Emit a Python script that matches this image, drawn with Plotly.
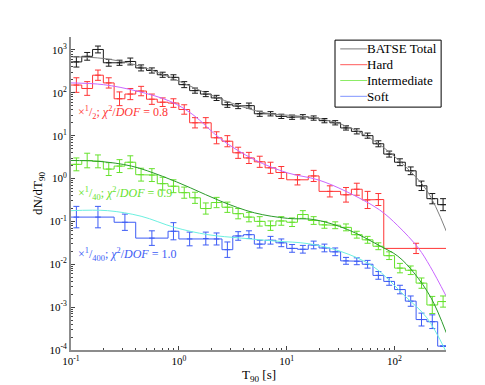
import numpy as np
import plotly.graph_objects as go

# T90 distributions (BATSE), stored as log10
# bin edges are log10(T90 / s)
total_edges = [-1.0 + 0.1 * k for k in range(36)]
total_vals = [2.72, 2.85, 3.01, 2.70, 2.70, 2.73, 2.58, 2.52, 2.42, 2.36,
              2.19, 2.05, 1.97, 1.88, 1.72, 1.69, 1.70, 1.51, 1.51, 1.45,
              1.43, 1.44, 1.41, 1.35, 1.30, 1.18, 1.10, 1.00, 0.81, 0.57,
              0.38, 0.18, -0.17, -0.47, -0.61]
total_err = [0.12, 0.09, 0.08, 0.08, 0.06, 0.08, 0.07, 0.06, 0.06, 0.06,
             0.07, 0.06, 0.06, 0.06, 0.06, 0.06, 0.06, 0.06, 0.05, 0.05,
             0.05, 0.05, 0.05, 0.05, 0.05, 0.05, 0.06, 0.06, 0.07, 0.07,
             0.08, 0.09, 0.11, 0.12, 0.14]

hard_edges = [-1.0 + 0.1 * k for k in range(21)] + [1.2, 1.3, 1.5, 1.6, 1.7, 1.8, 1.9, 2.5]
hard_vals = [2.18, 2.10, 2.41, 2.23, 1.86, 1.97, 2.04, 1.85, 1.78, 1.76,
             1.61, 1.30, 1.30, 0.95, 0.87, 0.60, 0.48, 0.39, 0.25, 0.14,
             -0.03, 0.06, -0.30, -0.38, -0.25, -0.50, -0.49, -1.63]
hard_err = [0.17, 0.16, 0.12, 0.12, 0.16, 0.13, 0.11, 0.12, 0.10, 0.10,
            0.11, 0.12, 0.12, 0.14, 0.13, 0.13, 0.13, 0.13, 0.13, 0.14,
            0.12, 0.13, 0.13, 0.17, 0.14, 0.20, 0.14, 0.12]

inter_edges = [-1.0 + 0.1 * k for k in range(36)]
inter_vals = [0.33, 0.42, 0.40, 0.22, 0.29, 0.38, 0.09, 0.08, -0.12, -0.18,
              -0.33, -0.45, -0.70, -0.56, -0.67, -0.82, -0.90, -1.00, -1.10, -0.99,
              -1.02, -0.84, -0.98, -1.08, -1.09, -1.14, -1.31, -1.43, -1.58, -1.80,
              -2.09, -2.14, -2.44, -2.95, -2.87]
inter_err = [0.15, 0.17, 0.15, 0.15, 0.15, 0.15, 0.15, 0.15, 0.15, 0.15,
             0.13, 0.13, 0.13, 0.12, 0.12, 0.12, 0.11, 0.11, 0.11, 0.10,
             0.10, 0.09, 0.09, 0.08, 0.08, 0.08, 0.08, 0.08, 0.08, 0.09,
             0.11, 0.10, 0.12, 0.20, 0.13]

soft_edges = [-1.0, -0.9, -0.6, -0.4, -0.1, 0.0] + [0.2 + 0.1 * k for k in range(24)]
soft_vals = [-0.90, -0.90, -1.02, -1.39, -1.23, -1.41, -1.40, -1.41, -1.66, -1.34,
             -1.31, -1.53, -1.44, -1.50, -1.63, -1.65, -1.55, -1.62, -1.71, -1.92,
             -1.93, -2.00, -2.26, -2.40, -2.59, -2.86, -3.29, -3.34, -3.91]
soft_err = [0.25, 0.25, 0.19, 0.17, 0.20, 0.16, 0.15, 0.14, 0.18, 0.10,
            0.09, 0.09, 0.09, 0.09, 0.09, 0.09, 0.09, 0.09, 0.09, 0.08,
            0.08, 0.09, 0.09, 0.09, 0.10, 0.12, 0.15, 0.16, 0.0]

# fitted model curves (log10 T90, log10 dN/dT90)
total_fit_x = [-1.0, -0.7, -0.4, -0.1, 0.2, 0.5, 0.8, 1.1, 1.3, 1.5, 1.7, 1.9, 2.1, 2.3, 2.48]
total_fit_y = [2.84, 2.80, 2.65, 2.38, 2.05, 1.75, 1.53, 1.46, 1.40, 1.27, 1.05, 0.72, 0.28, -0.28, -1.23]
hard_fit_x = [-1.0, -0.7, -0.39, -0.08, 0.13, 0.39, 0.70, 1.01, 1.29, 1.55, 1.86, 2.03, 2.22, 2.33, 2.48]
hard_fit_y = [2.23, 2.19, 2.04, 1.80, 1.49, 0.92, 0.44, 0.13, -0.03, -0.30, -0.73, -1.10, -1.62, -2.05, -2.75]
inter_fit_x = [-1.0, -0.74, -0.44, -0.15, 0.11, 0.39, 0.70, 1.01, 1.26, 1.565, 1.87, 2.03, 2.18, 2.34, 2.48]
inter_fit_y = [0.42, 0.40, 0.29, 0.05, -0.22, -0.53, -0.80, -0.93, -0.96, -1.19, -1.58, -1.81, -2.20, -2.79, -3.60]
soft_fit_x = [-1.0, -0.66, -0.35, -0.04, 0.27, 0.58, 0.9, 1.2, 1.5, 1.8, 2.1, 2.3, 2.47]
soft_fit_y = [-0.75, -0.75, -0.88, -1.14, -1.31, -1.39, -1.46, -1.52, -1.70, -2.05, -2.75, -3.25, -4.0]

names = ["BATSE Total", "Hard", "Intermediate", "Soft"]
hist_colors = ["#1a1a1a", "#ff3535", "#66e22c", "#3d5cf5"]
legend_colors = ["#7a7a7a", "#ff5a5a", "#8cec66", "#8095ff"]
fit_colors = ["#808080", "#c966ff", "#2a9a2a", "#6cf0e0"]
notes = ["×<sup>1</sup>/<sub>2</sub>; <i>χ</i><sup>2</sup>/<i>DOF</i> = 0.8",
         "×<sup>1</sup>/<sub>40</sub>; <i>χ</i><sup>2</sup>/<i>DOF</i> = 0.9",
         "×<sup>1</sup>/<sub>400</sub>; <i>χ</i><sup>2</sup>/<i>DOF</i> = 1.0"]
x_ticks = [-1, 0, 1, 2]
y_ticks = [-4, -3, -2, -1, 0, 1, 2, 3]

SERIF = "Liberation Serif, Times New Roman, serif"

series = [(total_edges, total_vals, total_err), (hard_edges, hard_vals, hard_err),
          (inter_edges, inter_vals, inter_err), (soft_edges, soft_vals, soft_err)]
fits = [(total_fit_x, total_fit_y), (hard_fit_x, hard_fit_y),
        (inter_fit_x, inter_fit_y), (soft_fit_x, soft_fit_y)]

fig = go.Figure()

for i, (edges, vals, err) in enumerate(series):
    e = np.array(edges)
    v = np.array(vals)
    d = np.array(err)
    # stair outline of the histogram
    sx = np.repeat(e, 2)[1:-1]
    sy = np.repeat(v, 2)
    fig.add_trace(go.Scatter(x=10 ** sx, y=10 ** sy, mode="lines", name=names[i],
                             showlegend=False, line=dict(color=hist_colors[i], width=1)))
    # error bars at the bin centres
    c = (e[:-1] + e[1:]) / 2
    y = 10 ** v
    fig.add_trace(go.Scatter(
        x=10 ** c, y=y, mode="markers", showlegend=False,
        marker=dict(symbol="line-ew", size=4, line=dict(color=hist_colors[i], width=1)),
        error_y=dict(type="data", symmetric=False, array=10 ** (v + d) - y,
                     arrayminus=y - 10 ** (v - d), color=hist_colors[i],
                     thickness=1, width=3)))

for i, (fx, fy) in enumerate(fits):
    fig.add_trace(go.Scatter(x=10 ** np.array(fx), y=10 ** np.array(fy), mode="lines",
                             showlegend=False, line=dict(color=fit_colors[i], width=1, shape="spline")))

# annotations with scale factor and fit quality
note_y = [0.758, 0.50, 0.304]
for k, txt in enumerate(notes):
    fig.add_annotation(text=txt, xref="paper", yref="paper", x=0.012, y=note_y[k],
                       xanchor="left", yanchor="middle", showarrow=False,
                       font=dict(family=SERIF, size=12, color=hist_colors[k + 1]))

# legend box drawn by hand (MATLAB-style compact legend)
lx0, lx1, ly0, ly1 = 0.704, 0.987, 0.99, 0.776
fig.add_shape(type="rect", xref="paper", yref="paper", x0=lx0, x1=lx1, y0=ly1, y1=ly0,
              line=dict(color="black", width=1), fillcolor="white", layer="above")
for k, nm in enumerate(names):
    yy = 0.962 - k * 0.0505
    fig.add_shape(type="line", xref="paper", yref="paper", x0=0.718, x1=0.79, y0=yy, y1=yy,
                  line=dict(color=legend_colors[k], width=1), layer="above")
    fig.add_annotation(text=nm, xref="paper", yref="paper", x=0.783, y=yy,
                       xanchor="left", yanchor="middle", showarrow=False,
                       font=dict(family=SERIF, size=13, color="black"))

# x-axis label placed like the original (closer to the tick labels)
fig.add_annotation(text="T<sub>90</sub> [s]", xref="paper", yref="paper", x=0.5, y=-0.083,
                   xanchor="center", yanchor="middle", showarrow=False,
                   font=dict(family=SERIF, size=13, color="black"))

axis_common = dict(type="log", showline=True, linecolor="#8c8c8c", linewidth=2,
                   ticks="inside", ticklen=4, tickcolor="#444", showgrid=False,
                   zeroline=False, mirror=False,
                   minor=dict(ticks="inside", ticklen=2, tickcolor="#444", dtick="D1", showgrid=False),
                   tickfont=dict(family=SERIF, size=11, color="black"))

fig.update_xaxes(range=[-1, np.log10(300)],
                 tickvals=[10.0 ** t for t in x_ticks],
                 ticktext=["10<sup>%d</sup>" % t for t in x_ticks],
                 **axis_common)
fig.update_yaxes(range=[-4, np.log10(2000)],
                 tickvals=[10.0 ** t for t in y_ticks],
                 ticktext=["10<sup>%d</sup>" % t for t in y_ticks],
                 title=dict(text="dN/dT<sub>90</sub>", standoff=4,
                            font=dict(family=SERIF, size=13, color="black")),
                 **axis_common)

fig.update_layout(
    width=485, height=385,
    margin=dict(l=63, r=47, t=29, b=43),
    paper_bgcolor="white", plot_bgcolor="white",
    showlegend=False,
)

fig.write_html("out.html")
